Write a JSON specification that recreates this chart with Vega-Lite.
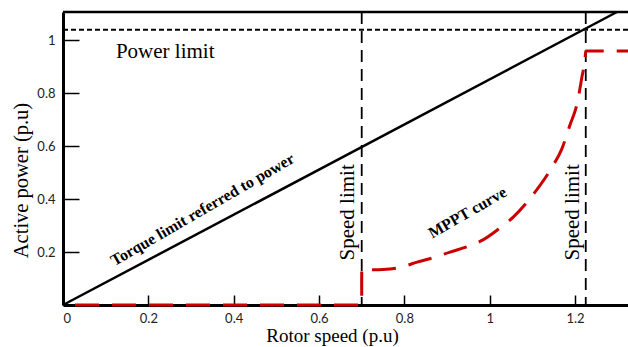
{
  "$schema": "https://vega.github.io/schema/vega-lite/v6.json",
  "width": 565,
  "height": 293,
  "autosize": {"type": "none"},
  "padding": {"left": 63, "top": 12, "right": 0, "bottom": 42},
  "background": "white",
  "config": {
    "view": {"stroke": null},
    "axis": {
      "domainColor": "black", "domainWidth": 3,
      "tickColor": "black", "tickWidth": 1.5,
      "labelFont": "Lato", "labelFontSize": 13, "labelColor": "#222",
      "titleFont": "Liberation Serif", "titleFontWeight": "normal", "titleColor": "black",
      "grid": false, "format": "~g"
    }
  },
  "datasets": {
    "torque": [{"x": 0, "y": 0}, {"x": 1.298, "y": 1.107}],
    "mppt": [
      {"i": 0, "x": 0, "y": 0}, {"i": 1, "x": 0.7, "y": 0}, {"i": 2, "x": 0.7, "y": 0.136},
      {"i": 3, "x": 0.73, "y": 0.133}, {"i": 4, "x": 0.75, "y": 0.134}, {"i": 5, "x": 0.79, "y": 0.142},
      {"i": 6, "x": 0.83, "y": 0.162}, {"i": 7, "x": 0.87, "y": 0.18}, {"i": 8, "x": 0.907, "y": 0.2},
      {"i": 9, "x": 0.95, "y": 0.222}, {"i": 10, "x": 0.984, "y": 0.246}, {"i": 11, "x": 1.019, "y": 0.285},
      {"i": 12, "x": 1.055, "y": 0.332}, {"i": 13, "x": 1.101, "y": 0.416}, {"i": 14, "x": 1.146, "y": 0.521},
      {"i": 15, "x": 1.169, "y": 0.59}, {"i": 16, "x": 1.188, "y": 0.68}, {"i": 17, "x": 1.205, "y": 0.763},
      {"i": 18, "x": 1.216, "y": 0.861}, {"i": 19, "x": 1.223, "y": 0.926}, {"i": 20, "x": 1.225, "y": 0.96},
      {"i": 21, "x": 1.324, "y": 0.96}
    ],
    "speed": [{"x": 0.7}, {"x": 1.225}],
    "power": [{"y": 1.04}],
    "border": [{"y": 1.107}]
  },
  "layer": [
    {
      "data": {"name": "border"},
      "mark": {"type": "rule", "color": "black", "strokeWidth": 2.5},
      "encoding": {
        "y": {"field": "y", "type": "quantitative", "scale": {"domain": [0, 1.107], "nice": false, "zero": false},
          "axis": {"title": "Active power (p.u)", "values": [0.2, 0.4, 0.6, 0.8, 1], "tickSize": -16, "labelPadding": 24,
            "titleFontSize": 20.5, "titleX": -42, "titleY": 168, "titleAlign": "center", "titleBaseline": "middle", "titleAngle": -90}}
      }
    },
    {
      "data": {"name": "power"},
      "mark": {"type": "rule", "color": "black", "strokeWidth": 2.2, "strokeDash": [5, 3]},
      "encoding": {"y": {"field": "y", "type": "quantitative"}}
    },
    {
      "data": {"name": "speed"},
      "mark": {"type": "rule", "color": "black", "strokeWidth": 1.8, "strokeDash": [12, 7]},
      "encoding": {"x": {"field": "x", "type": "quantitative"}}
    },
    {
      "data": {"name": "torque"},
      "mark": {"type": "line", "color": "black", "strokeWidth": 2.5},
      "encoding": {
        "x": {"field": "x", "type": "quantitative", "scale": {"domain": [0, 1.324], "nice": false, "zero": false},
          "axis": {"title": "Rotor speed (p.u)", "values": [0, 0.2, 0.4, 0.6, 0.8, 1, 1.2], "tickSize": -10, "labelPadding": 17,
            "titleFontSize": 19, "titleX": 269, "titleY": 36, "titleAlign": "center", "titleBaseline": "alphabetic"}},
        "y": {"field": "y", "type": "quantitative"}
      }
    },
    {
      "data": {"name": "mppt"},
      "mark": {"type": "line", "color": "#cc0000", "strokeWidth": 3, "strokeDash": [24, 13], "strokeDashOffset": 25, "interpolate": "monotone"},
      "encoding": {
        "x": {"field": "x", "type": "quantitative"},
        "y": {"field": "y", "type": "quantitative"},
        "order": {"field": "i", "type": "quantitative"}
      }
    },
    {
      "data": {"values": [{"x": 0.124, "y": 0.933, "label": "Power limit"}]},
      "mark": {"type": "text", "font": "Liberation Serif", "fontSize": 21, "align": "left", "baseline": "alphabetic", "color": "black"},
      "encoding": {"x": {"field": "x", "type": "quantitative"}, "y": {"field": "y", "type": "quantitative"}, "text": {"field": "label"}}
    },
    {
      "data": {"values": [{"x": 0.327, "y": 0.36, "label": "Torque limit referred to power"}]},
      "mark": {"type": "text", "font": "Liberation Serif", "fontWeight": "bold", "fontSize": 16, "angle": -30, "align": "center", "baseline": "middle", "color": "black"},
      "encoding": {"x": {"field": "x", "type": "quantitative"}, "y": {"field": "y", "type": "quantitative"}, "text": {"field": "label"}}
    },
    {
      "data": {"values": [{"x": 0.948, "y": 0.349, "label": "MPPT curve"}]},
      "mark": {"type": "text", "font": "Liberation Serif", "fontWeight": "bold", "fontSize": 16, "angle": -30, "align": "center", "baseline": "middle", "color": "black"},
      "encoding": {"x": {"field": "x", "type": "quantitative"}, "y": {"field": "y", "type": "quantitative"}, "text": {"field": "label"}}
    },
    {
      "data": {"values": [{"x": 0.668, "y": 0.35, "label": "Speed limit"}, {"x": 1.195, "y": 0.35, "label": "Speed limit"}]},
      "mark": {"type": "text", "font": "Liberation Serif", "fontSize": 21, "angle": 270, "align": "center", "baseline": "middle", "color": "black"},
      "encoding": {"x": {"field": "x", "type": "quantitative"}, "y": {"field": "y", "type": "quantitative"}, "text": {"field": "label"}}
    }
  ]
}
